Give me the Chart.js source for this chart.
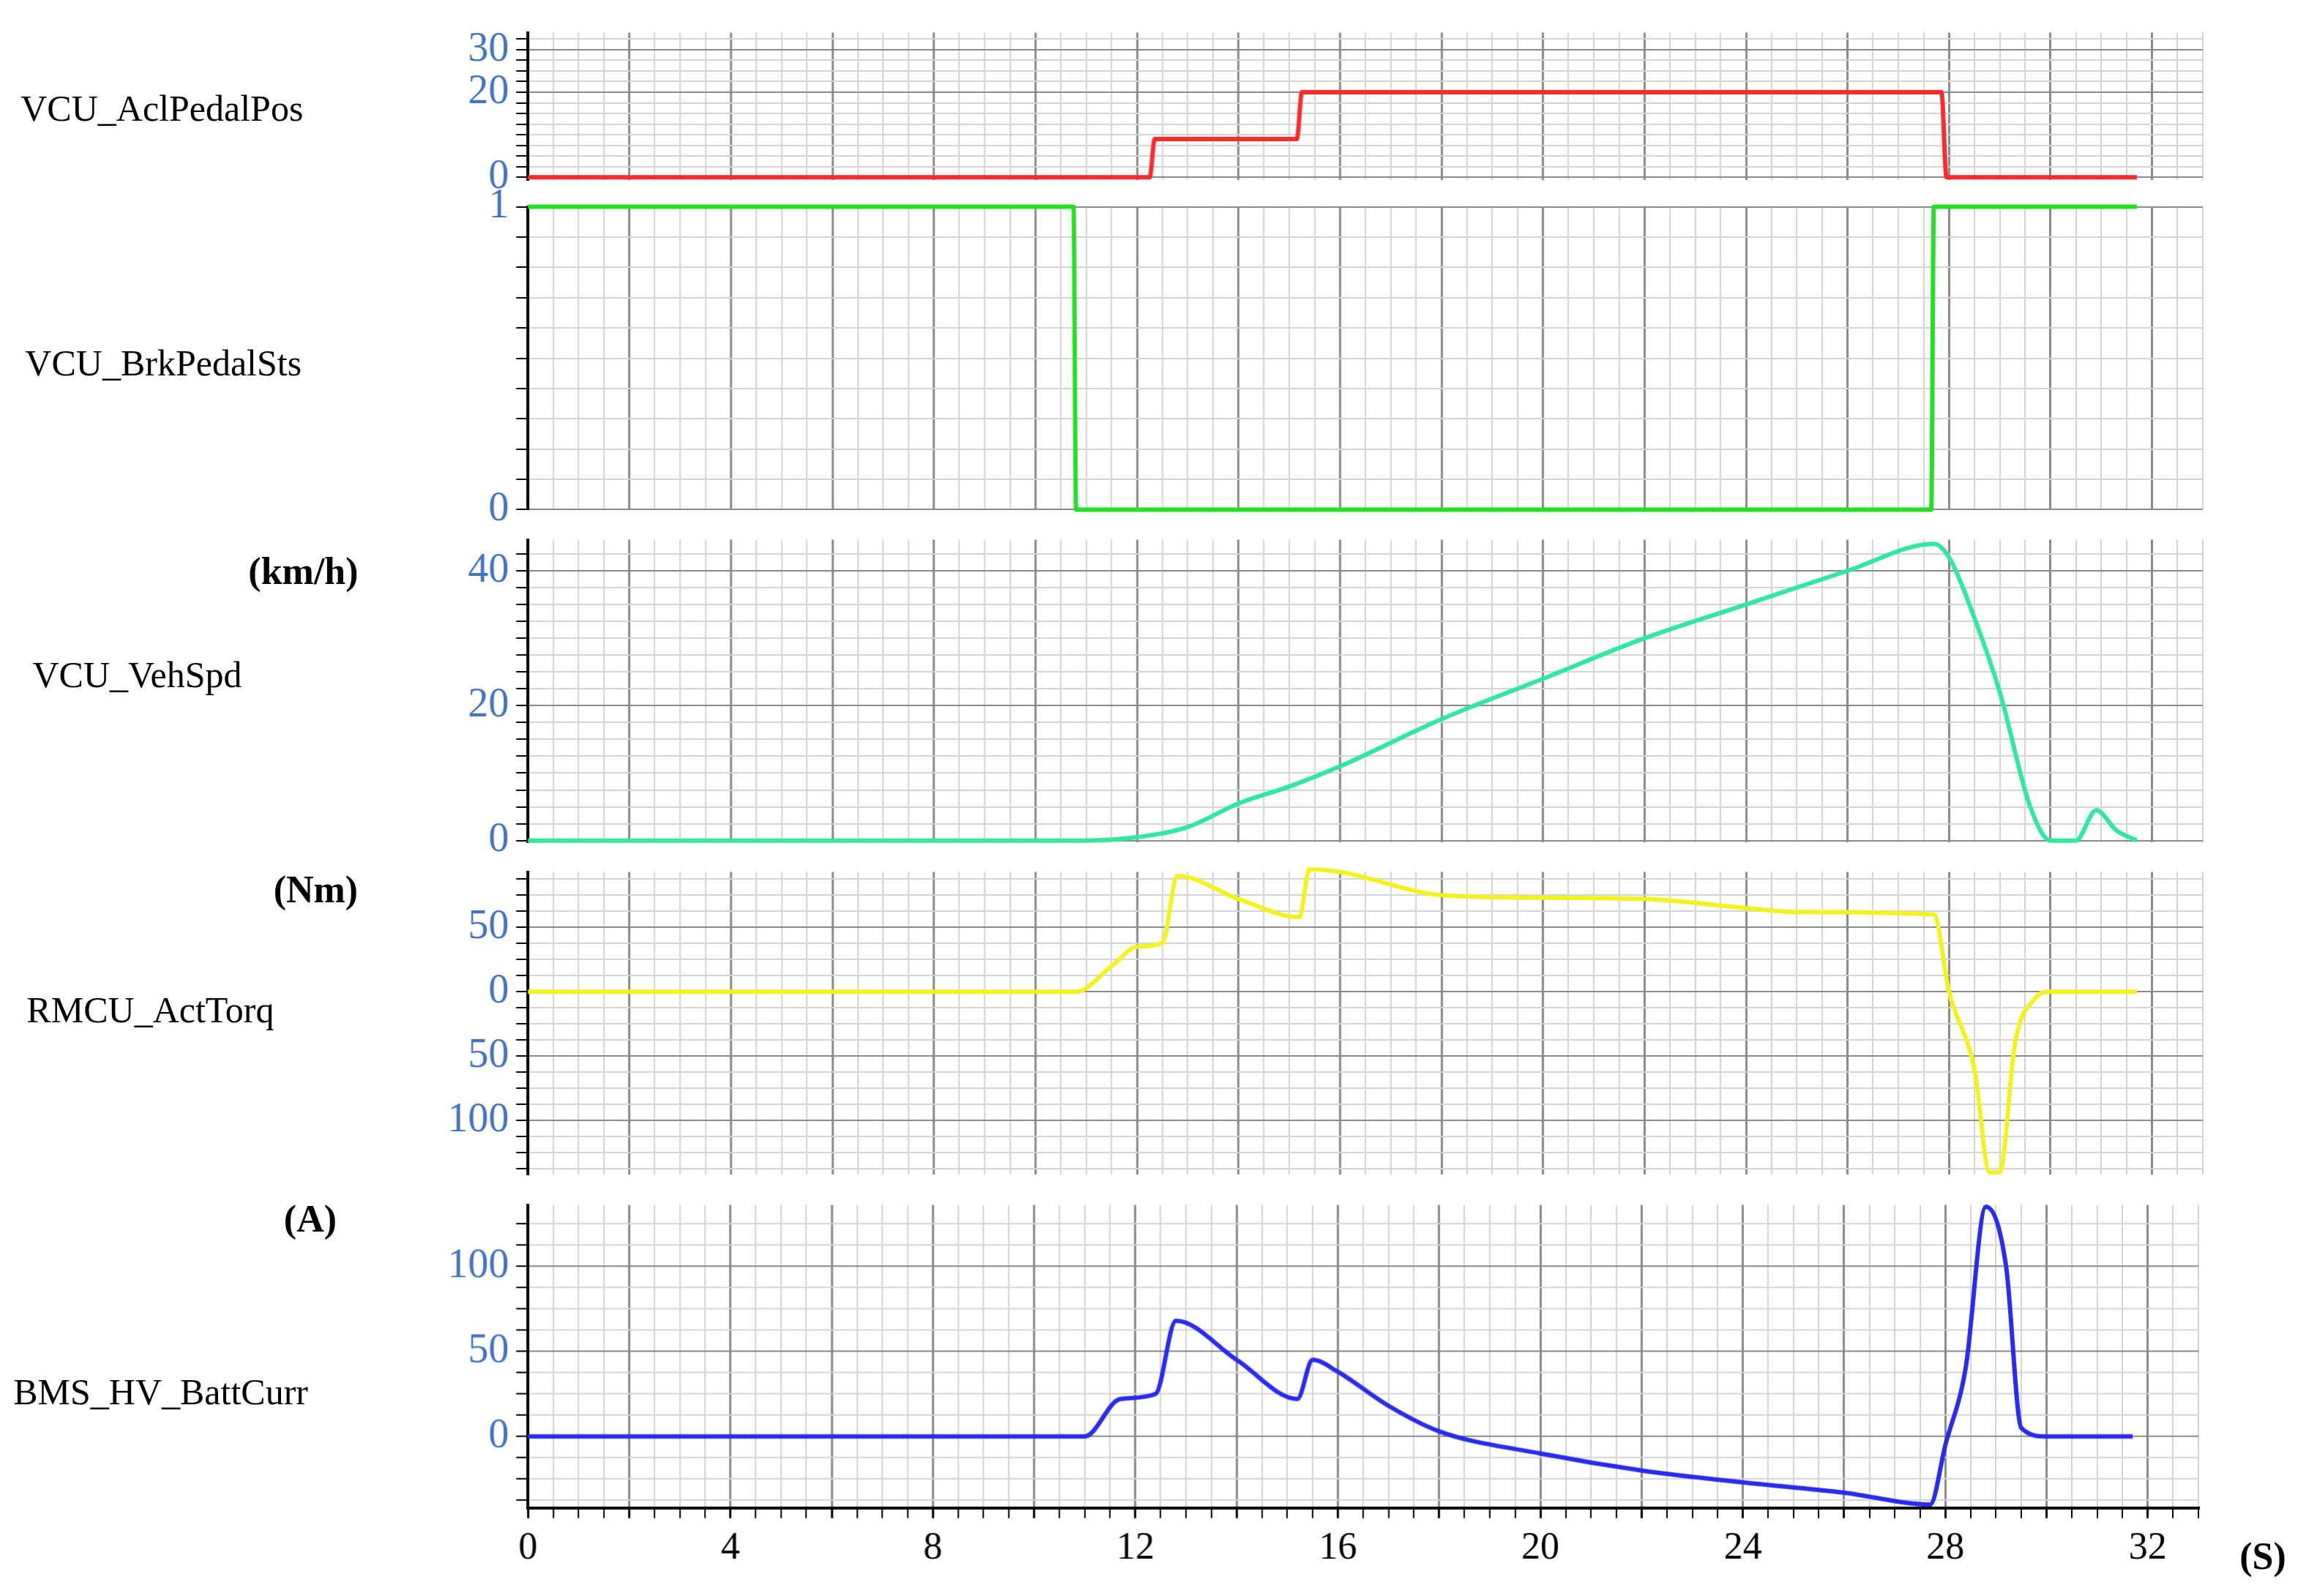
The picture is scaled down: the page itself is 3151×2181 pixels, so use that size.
<!DOCTYPE html>
<html><head><meta charset="utf-8">
<script src="https://cdn.jsdelivr.net/npm/chart.js@4"></script>
<style>
body{margin:0;background:#fff;width:3151px;height:2181px;position:relative;overflow:hidden;font-family:"Liberation Serif",serif}
canvas{position:absolute}
.lab{position:absolute;font-size:50px;color:#000;white-space:nowrap}
.unit{position:absolute;font-size:52px;font-weight:bold;color:#000}
</style></head><body>
<script>
// time samples (s) and values per signal
const aclT = [0, 12.25, 12.35, 15.15, 15.25, 27.85, 27.95, 31.7];
const aclV = [0, 0, 9, 9, 20, 20, 0, 0];
const brkT = [0, 10.75, 10.8, 27.65, 27.7, 31.7];
const brkV = [1, 1, 0, 0, 1, 1];
const spdT = [0, 11, 12, 13, 14, 15, 16, 18, 20, 22, 24, 26, 27.7, 28, 28.5, 29, 29.6, 30, 30.5, 30.9, 31.3, 31.7];
const spdV = [0, 0, 0.5, 2, 5.5, 8, 11, 18, 24, 30, 35, 40, 44, 42, 33, 22, 5, 0, 0, 4.5, 1.5, 0];
const trqT = [0, 10.8, 11.5, 12, 12.5, 12.8, 14, 15.2, 15.4, 16, 18, 20, 22, 24, 25, 27.7, 28, 28.5, 28.8, 29, 29.3, 29.7, 30, 31.7];
const trqV = [0, 0, 20, 35, 38, 90, 72, 58, 95, 93, 75, 73, 72, 65, 62, 60, 0, -60, -140, -140, -40, -5, 0, 0];
const batT = [0, 11, 11.7, 12.4, 12.8, 14, 15.2, 15.5, 16, 17, 18, 20, 22, 24, 26, 27.7, 28, 28.4, 28.8, 29.2, 29.5, 30, 31.7];
const batV = [0, 0, 22, 25, 68, 45, 22, 45, 38, 18, 3, -10, -20, -27, -33, -40, -5, 40, 135, 100, 5, 0, 0];
const xLabels = [0, 4, 8, 12, 16, 20, 24, 28, 32];

const K = 2.02;
const M = 30; // spare room above/below each plot for tick label overflow
const panels = [
  {name: "VCU_AclPedalPos", t: aclT, v: aclV, color: "#ff2a2a", top: 22, bot: 122, min: -0.7, max: 34, step: 2.5, labels: [0, 20, 30], ly: 73},
  {name: "VCU_BrkPedalSts", t: brkT, v: brkV, color: "#22e022", top: 140, bot: 345, min: 0, max: 1, step: 0.1, labels: [0, 1], ly: 245},
  {name: "VCU_VehSpd", t: spdT, v: spdV, color: "#30e8a0", top: 365, bot: 570, min: -0.3, max: 44.6, step: 2.5, labels: [0, 20, 40], ly: 456, unit: "(km/h)", uy: 387, ux: 168},
  {name: "RMCU_ActTorq", t: trqT, v: trqV, color: "#f2f222", top: 590, bot: 795, min: -142, max: 93, step: 12.5, labels: [-100, -50, 0, 50], ly: 683, unit: "(Nm)", uy: 602, ux: 185},
  {name: "BMS_HV_BattCurr", t: batT, v: batV, color: "#2a2af0", top: 815, bot: 1020, min: -42, max: 136, step: 12.5, labels: [0, 50, 100], ly: 941, unit: "(A)", uy: 825, ux: 192, last: true}
];
const labX = {"VCU_AclPedalPos": 14, "VCU_BrkPedalSts": 17, "VCU_VehSpd": 22, "RMCU_ActTorq": 18, "BMS_HV_BattCurr": 9};

panels.forEach(p => {
  const c = document.createElement("canvas");
  const extra = p.last ? 60 : M;
  const h = (p.bot - p.top + M + extra) * K;
  c.style.left = "0px";
  c.style.top = ((p.top - M) * K) + "px";
  c.style.width = (1492 * K) + "px";
  c.style.height = h + "px";
  c.width = 1492 * K; c.height = h;
  document.body.appendChild(c);

  const lab = document.createElement("div");
  lab.className = "lab"; lab.textContent = p.name;
  lab.style.left = (labX[p.name] * K) + "px"; lab.style.top = ((p.ly - 14) * K) + "px";
  document.body.appendChild(lab);
  if (p.unit) {
    const u = document.createElement("div");
    u.className = "unit"; u.textContent = p.unit;
    u.style.left = (p.ux * K) + "px"; u.style.top = ((p.uy - 15) * K) + "px";
    document.body.appendChild(u);
  }

  new Chart(c, {
    type: "line",
    data: {datasets: [{data: p.t.map((x, i) => ({x: x, y: p.v[i]})), borderColor: p.color, borderWidth: 6, pointRadius: 0, cubicInterpolationMode: "monotone", clip: 8}]},
    options: {
      responsive: false, animation: false, events: [],
      layout: {padding: {top: M * K, bottom: p.last ? 0 : M * K, left: 0, right: 2 * K}},
      plugins: {legend: {display: false}, tooltip: {enabled: false}},
      scales: {
        x: {
          type: "linear", min: 0, max: 33,
          afterBuildTicks: s => { const a = []; for (let v = 0; v <= 33; v += 0.5) a.push({value: v}); s.ticks = a; },
          afterFit: s => { s.height = p.last ? 60 * K : 0; },
          grid: {color: ctx => (ctx.tick && ctx.tick.value % 2 === 0) ? "#8a8a8a" : "#d4d4d4", lineWidth: ctx => (ctx.tick && ctx.tick.value % 2 === 0) ? 3 : 2, drawTicks: !!p.last, tickLength: 14, tickColor: "#000"},
          border: {display: !!p.last, color: p.last ? "#000" : "#999", width: p.last ? 4 : 2},
          ticks: {
            display: !!p.last, autoSkip: false, maxRotation: 0, color: "#000", padding: 10,
            font: {family: "Liberation Serif", size: 52},
            callback: v => xLabels.includes(v) ? String(v) : ""
          }
        },
        y: {
          min: p.min, max: p.max,
          afterBuildTicks: s => {
            const a = [];
            const start = Math.ceil(p.min / p.step) * p.step;
            for (let v = start; v <= p.max + 1e-9; v += p.step) a.push({value: Math.round(v * 1000) / 1000});
            p.labels.forEach(l => { if (!a.some(t => t.value === l)) a.push({value: l}); });
            a.sort((m, n) => m.value - n.value);
            s.ticks = a;
          },
          afterFit: s => { s.width = 357 * K; },
          grid: {color: ctx => (ctx.tick && p.labels.includes(ctx.tick.value)) ? "#8a8a8a" : "#d4d4d4", lineWidth: 2, tickLength: 16, tickColor: "#000"},
          border: {color: "#000", width: 4},
          ticks: {
            autoSkip: false, color: "#4472c4", padding: 10,
            font: {family: "Liberation Serif", size: 56},
            callback: v => p.labels.includes(v) ? String(Math.abs(v)) : ""
          }
        }
      }
    }
  });
});

const s = document.createElement("div");
s.className = "unit"; s.textContent = "(S)";
s.style.left = (1515 * K) + "px"; s.style.top = (1038 * K) + "px";
document.body.appendChild(s);
</script>
</body></html>
